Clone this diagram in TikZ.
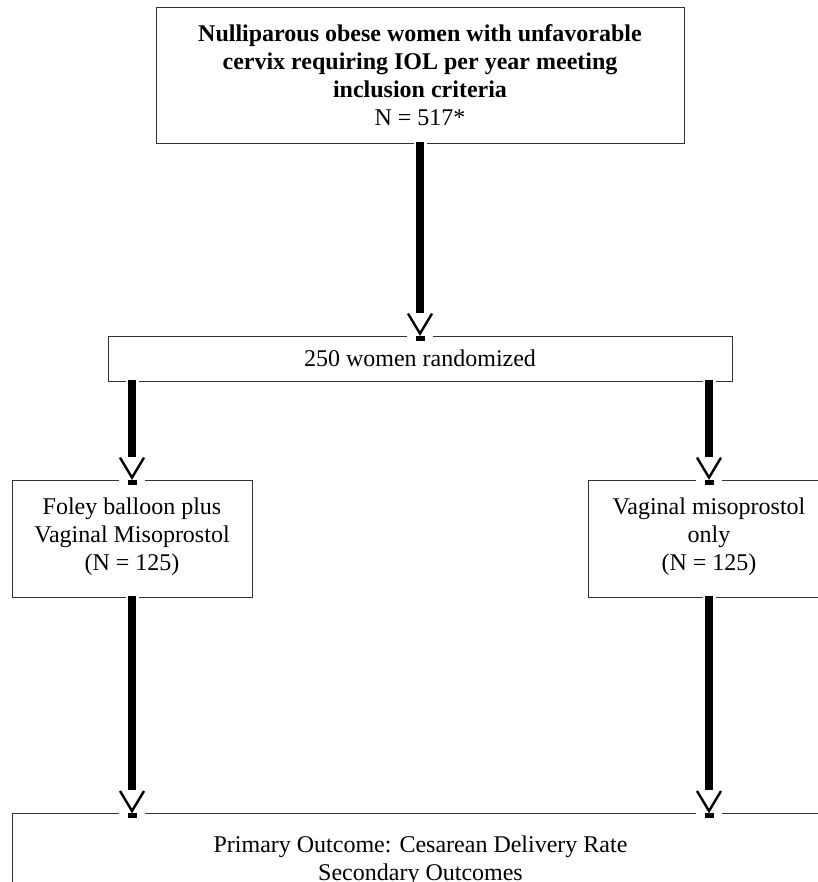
\documentclass[tikz,border=0pt]{standalone}
\usepackage{fontspec}
\setmainfont{Liberation Serif}
\usetikzlibrary{positioning}

\tikzset{
  box/.style={draw=black!80,line width=0.8pt,fill=white,align=center,inner xsep=4pt},
  armbox/.style={box,minimum height=117,inner ysep=10pt,text depth=8pt},
  shaft/.style={line width=7.5pt,shorten <=-1pt,preaction={draw=white,line width=13pt}},
  vhead/.style={line width=2.4pt,line join=miter},
}

\begin{document}
\begin{tikzpicture}[x=1pt,y=1pt,font=\fontsize{24}{28}\selectfont]
  \useasboundingbox (0,0) rectangle (817,882);
  \node[box,font=\fontsize{24}{28}\selectfont\bfseries,minimum width=528,minimum height=136] (pool) at (420,807)
    {Nulliparous obese women with unfavorable\\cervix requiring IOL per year meeting\\inclusion criteria\\\mdseries N = 517*};
  \node[box,minimum width=624,minimum height=45] (rand) at (420,523.5) {250 women randomized};
  \node[armbox,minimum width=240] (foley) at (132,343.5) {Foley balloon plus\\Vaginal Misoprostol\\(N = 125)};
  \node[armbox,minimum width=242] (misop) at (709,343.5) {Vaginal misoprostol\\only\\(N = 125)};
  \node[box,minimum width=817,inner ysep=22pt,anchor=north] (outcome) at (420.5,69)
    {Primary Outcome: Cesarean Delivery Rate\\Secondary Outcomes};
  \coordinate (inL) at (outcome.north -| foley);
  \coordinate (inR) at (outcome.north -| misop);
  % shafts
  \draw[shaft] (pool) -- ([yshift=23]rand.north);
  \draw[shaft] (rand.south -| foley) -- ([yshift=23]foley.north);
  \draw[shaft] (rand.south -| misop) -- ([yshift=23]misop.north);
  \draw[shaft] (foley) -- ([yshift=23]inL);
  \draw[shaft] (misop) -- ([yshift=23]inR);
  % open heads
  \foreach \p in {rand.north,foley.north,misop.north,inL,inR}{
    \fill[white] ([shift={(-13,-1)}]\p) rectangle ([shift={(13,23)}]\p);
    \draw[vhead] ([shift={(-12,22)}]\p) -- ([yshift=2]\p) -- ([shift={(12,22)}]\p);
    \fill ([shift={(-4.5,-5)}]\p) rectangle ([shift={(4.5,0)}]\p);
  }
\end{tikzpicture}
\end{document}
